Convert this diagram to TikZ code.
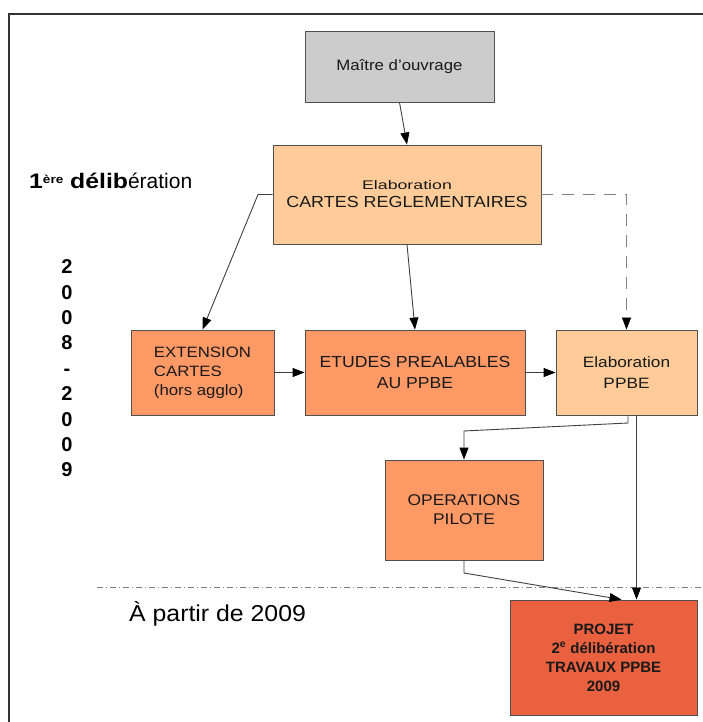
\documentclass[tikz,border=0pt]{standalone}
\usepackage{fontspec}
\usepackage{graphicx}
\setmainfont{Liberation Sans}
\usetikzlibrary{arrows.meta,calc}
\definecolor{boxgray}{HTML}{CCCCCC}
\definecolor{peach}{HTML}{FFCC99}
\definecolor{salmon}{HTML}{FF9966}
\definecolor{redor}{HTML}{EA6140}
\definecolor{edgec}{HTML}{505050}
\definecolor{linec}{HTML}{404040}
\newcommand{\fs}[2]{\fontsize{#1}{#2}\selectfont}
\newcommand{\hsc}[2]{\scalebox{#1}[1]{#2}}
\tikzset{
  box/.style={draw=edgec, line width=0.9pt, inner sep=0pt, align=center, text=black!90},
  conn/.style={draw=linec, line width=0.9pt, -{Triangle[length=12pt,width=9pt,color=black,fill=black]}},
  dashconn/.style={draw=gray, line width=1.3pt, dash pattern=on 12pt off 9pt, -{Triangle[length=12pt,width=9pt,color=black,fill=black,line width=0.5pt]}},
  frameline/.style={draw=black!80, line width=1.4pt},
  sepline/.style={draw=gray, line width=0.8pt, dash pattern=on 6pt off 3pt on 1pt off 3pt},
  lbl/.style={inner sep=0pt, text=black}
}
\begin{document}
\begin{tikzpicture}[x=1pt,y=-1pt]
\useasboundingbox (0,0) rectangle (703,722);
\fill[white] (0,0) rectangle (703,722);
% frame
\draw[frameline] (703,14) -- (9,14) -- (9,722);
% separator
\draw[sepline] (97,587) -- (703,587);

% boxes
\node[box, fill=boxgray, minimum width=189pt, minimum height=71pt, font={\fs{15}{18}}] (maitre) at (399.5,66.5)
  {\hsc{1.12}{Maître d'ouvrage}};
\node[box, fill=peach, minimum width=268pt, minimum height=99pt, font={\fs{16}{18}}] (cartes) at (407,194.5)
  {\hsc{1.42}{\fs{12.5}{14}Elaboration}\\ \hsc{1.12}{CARTES REGLEMENTAIRES}};
\node[box, fill=salmon, minimum width=143pt, minimum height=85pt, align=left, font={\fs{15}{19}}] (ext) at (202.5,372.5)
  {\hsc{1.12}{EXTENSION}\\ \hsc{1.12}{CARTES}\\ \hsc{1.12}{(hors agglo)}};
\node[box, fill=salmon, minimum width=220pt, minimum height=85pt, font={\fs{16}{21}}] (etudes) at (415,372.5)
  {\hsc{1.1}{ETUDES PREALABLES}\\ \hsc{1.1}{AU PPBE}};
\node[box, fill=peach, minimum width=141pt, minimum height=85pt, font={\fs{15}{21}}] (ppbe) at (626.5,372.5)
  {\hsc{1.15}{Elaboration}\\ \hsc{1.15}{PPBE}};
\node[box, fill=salmon, minimum width=158pt, minimum height=100pt, font={\fs{15.5}{19}}] (oper) at (464,510)
  {\hsc{1.12}{OPERATIONS}\\ \hsc{1.12}{PILOTE}};
\node[box, fill=redor, minimum width=187pt, minimum height=115pt, font={\fs{15}{19}\bfseries}] (projet) at (603.5,657.5)
  {PROJET\\ 2\textsuperscript{e} délibération\\ TRAVAUX PPBE\\ 2009};

% side labels
\node[lbl, anchor=west, font={\fs{21}{24}}] (delib1) at (29,181)
  {\hsc{1.18}{\bfseries 1\raisebox{5.5pt}{\fs{11.5}{13}\bfseries ère} délib}ération};
\node[lbl, align=center, font={\fs{20}{25.4}\bfseries}] (years) at (67,368.5)
  {2\\0\\0\\8\\-\\2\\0\\0\\9};
\node[lbl, anchor=west, font={\fs{23}{26}}] (apartir) at (129,614)
  {\hsc{1.08}{À partir de 2009}};

% connectors
\coordinate (c1) at (258,194.5);
\coordinate (k1) at (628,423);
\coordinate (k2) at (464,431);
\coordinate (k3) at (464,573);
\draw[conn] (maitre.south) -- (cartes.north);
\draw[conn] (cartes.west) -- (c1) -- (ext.north);
\draw[conn] (cartes.south) -- (etudes.north);
\draw[dashconn] (cartes.east) -| (ppbe.north);
\draw[conn] (ext.east) -- (etudes.west);
\draw[conn] (etudes.east) -- (ppbe.west);
\draw[conn] (ppbe.south -| k1) -- (k1) -- (k2) -- (oper.north);
\draw[conn] ([xshift=10pt]ppbe.south) -- ([xshift=10pt]ppbe.south |- projet.north);
\draw[conn] (oper.south) -- (k3) -- ([xshift=18pt]projet.north);
\end{tikzpicture}
\end{document}
